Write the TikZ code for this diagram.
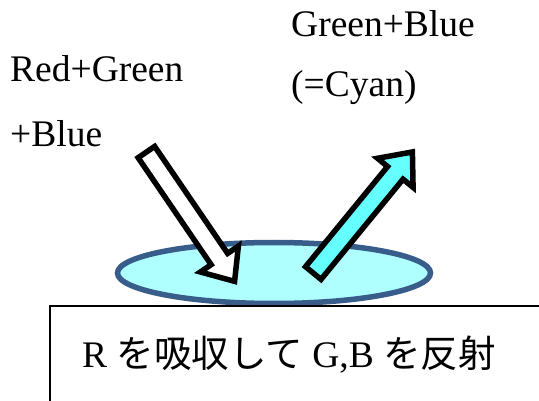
\documentclass[tikz,border=0pt]{standalone}
\usepackage{fontspec}
\setmainfont{Liberation Serif}
\newfontfamily\jpfont{Noto Sans CJK JP}
\usepackage{tikz}

\definecolor{lakefill}{RGB}{175,255,255}
\definecolor{lakeedge}{RGB}{56,93,138}
\definecolor{cyanlight}{RGB}{102,255,255}

\begin{document}
\begin{tikzpicture}[x=1pt, y=-1pt,
        label/.style={anchor=base west, inner sep=0pt, font=\fontsize{37.5}{44}\selectfont},
        blockarrow/.style={draw=black, line width=5.5pt, miter limit=10}]
        \clip (0,0) rectangle (539,401);

        %% surface qui absorbe le rouge
        \draw [lakeedge, fill=lakefill, line width=5.5pt] (274,273) ellipse [x radius=156.5, y radius=30.5];

        %% lumiere blanche qui arrive
        \begin{scope}[shift={(145,150)}, rotate=-55.7]
                \draw [blockarrow, fill=white] (2.5,-10) -- (132,-10) -- (132,-23) -- (159,0) -- (132,23) -- (132,10) -- (2.5,10) -- cycle;
        \end{scope}

        %% lumiere reflechie
        \begin{scope}[shift={(311.7,275)}, rotate=50.7]
                \draw [blockarrow, fill=cyanlight] (2.5,-10) -- (132,-10) -- (132,-23) -- (159,0) -- (132,23) -- (132,10) -- (2.5,10) -- cycle;
        \end{scope}

        \node [label] (inlight1) at (10,82) {Red+Green};
        \node [label] (inlight2) at (10,147) {+Blue};

        \node [label] (outlight1) at (291,37) {Green+Blue};
        \node [label] (outlight2) at (291,97) {(=Cyan)};

        %% boite du texte
        \draw [line width=1.6pt] (50,420) -- (50,306) -- (560,306);
        \node [label] (caption) at (82,367) {R {\jpfont を吸収して} G,B {\jpfont を反射}};

    \end{tikzpicture}
\end{document}
